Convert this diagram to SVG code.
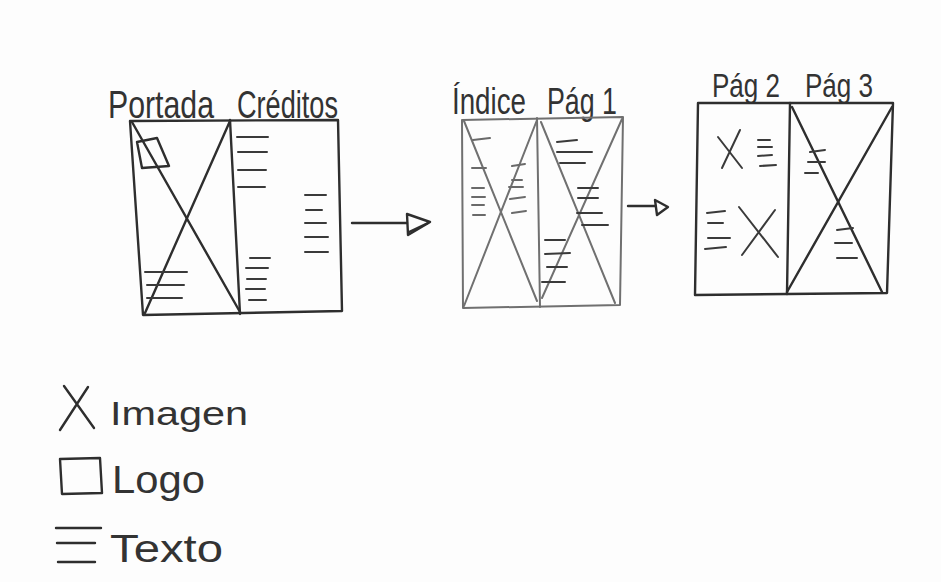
<svg xmlns="http://www.w3.org/2000/svg" width="941" height="582" viewBox="0 0 941 582">
  <style>
    .ink { fill: none; stroke: #2e2e2e; stroke-width: 2.4; stroke-linecap: round; stroke-linejoin: round; }
    .pencil { fill: none; stroke: #707070; stroke-width: 2; stroke-linecap: round; stroke-linejoin: round; }
    .txt { fill: none; stroke: #3a3a3a; stroke-width: 2; stroke-linecap: round; }
    .txtl { fill: none; stroke: #6a6a6a; stroke-width: 2; stroke-linecap: round; }
    .label { font-family: "Liberation Sans", "DejaVu Sans", sans-serif; fill: #333; }
  </style>

  <rect width="941" height="582" fill="#fdfdfd"/>

  <!-- Spread: cover + credits -->
  <g id="spread-portada-creditos">
    <text class="label" x="108" y="118" font-size="38" textLength="106" lengthAdjust="spacingAndGlyphs">Portada</text>
    <text class="label" x="237" y="118" font-size="38" textLength="101" lengthAdjust="spacingAndGlyphs">Créditos</text>
    <polygon class="ink" points="130,121 338,120 342,311 143,315"/>
    <line class="ink" x1="230" y1="120" x2="240" y2="314"/>
    <line class="ink" x1="132" y1="122" x2="240" y2="312"/>
    <line class="ink" x1="230" y1="121" x2="145" y2="313"/>
    <polygon class="ink" points="137,142 157,138 169,166 142,168"/>
    <g class="txt">
      <path d="M145 272H187M147 285H184M147 298H182"/>
      <path d="M237 137H268M238 152H267M238 170H266M238 187H265"/>
      <path d="M305 195H326M306 210H322M305 223H326M305 237H328M305 252H328"/>
      <path d="M250 258H270M246 268H268M247 279H266M246 289H265M249 300H266"/>
    </g>
  </g>

  <!-- Spread: index + page 1 -->
  <g id="spread-indice-pag1">
    <text class="label" x="452" y="114" font-size="36" textLength="74" lengthAdjust="spacingAndGlyphs">Índice</text>
    <text class="label" x="547" y="114" font-size="36" textLength="70" lengthAdjust="spacingAndGlyphs">Pág 1</text>
    <polygon class="pencil" points="462,120 623,117 620,305 463,308"/>
    <line class="pencil" x1="537" y1="118" x2="540" y2="307"/>
    <line class="pencil" x1="464" y1="121" x2="537" y2="301"/>
    <line class="pencil" x1="537" y1="120" x2="464" y2="306"/>
    <line class="pencil" x1="541" y1="122" x2="615" y2="303"/>
    <line class="pencil" x1="622" y1="119" x2="542" y2="298"/>
    <g class="txtl">
      <path d="M473 140L490 138M472 168H486M472 188H484M472 197H485M472 205H484M473 215H485"/>
      <path d="M512 166L525 164M512 180H522M509 187H523M510 199L525 197M512 213L526 211"/>
    </g>
    <g class="txt">
      <path d="M557 142L577 140M557 152H592M560 163H585"/>
      <path d="M578 188H598M578 198H598M577 213H602M582 225H608"/>
      <path d="M545 240H565M545 254L570 253M547 267H567M542 282H565"/>
    </g>
  </g>

  <!-- Spread: page 2 + page 3 -->
  <g id="spread-pag2-pag3">
    <text class="label" x="712" y="97" font-size="34" textLength="68" lengthAdjust="spacingAndGlyphs">Pág 2</text>
    <text class="label" x="805" y="97" font-size="34" textLength="68" lengthAdjust="spacingAndGlyphs">Pág 3</text>
    <polygon class="ink" points="698,103 893,103 887,293 695,295"/>
    <line class="ink" x1="790" y1="103" x2="787" y2="294"/>
    <line class="ink" x1="792" y1="107" x2="882" y2="292"/>
    <line class="ink" x1="892" y1="107" x2="787" y2="292"/>
    <g class="txt">
      <path d="M718 137L742 168M740 130L722 168"/>
      <path d="M758 140H770M758 147H772M758 156L772 155M760 166L776 165"/>
      <path d="M707 213L725 211M708 223H723M708 238H730M705 249L726 247"/>
      <path d="M739 207L778 257M775 210L742 255"/>
      <path d="M810 152L825 150M808 162H825M805 173H818"/>
      <path d="M837 230L853 228M835 243H852M837 258H857"/>
    </g>
  </g>

  <!-- Legend -->
  <g id="legend">
    <g id="legend-imagen">
      <path class="ink" d="M64 386L94 428M88 387L60 430" stroke-width="2"/>
      <text class="label" x="110" y="425" font-size="34" textLength="138" lengthAdjust="spacingAndGlyphs">Imagen</text>
    </g>
    <g id="legend-logo">
      <polygon class="ink" points="60,459 100,458 102,493 62,494" stroke-width="2"/>
      <text class="label" x="112" y="493" font-size="38" textLength="93" lengthAdjust="spacingAndGlyphs">Logo</text>
    </g>
    <g id="legend-texto">
      <path class="ink" d="M56 528H101M57 543H95M58 562H95" stroke-width="2"/>
      <text class="label" x="110" y="562" font-size="38" textLength="113" lengthAdjust="spacingAndGlyphs">Texto</text>
    </g>
  </g>

  <!-- Page-flow arrows -->
  <g id="connectors">
    <g id="arrow-1">
      <line class="ink" x1="352" y1="223" x2="407" y2="223" stroke-width="2.6"/>
      <polygon class="ink" points="407,214 430,222 408,235" stroke-width="2"/>
      <line class="ink" x1="409" y1="232" x2="428" y2="223" stroke-width="1.6"/>
    </g>
    <g id="arrow-2">
      <line class="ink" x1="628" y1="206" x2="655" y2="206" stroke-width="2.4"/>
      <polygon class="ink" points="655,200 668,207 657,215" stroke-width="2"/>
    </g>
  </g>
</svg>
